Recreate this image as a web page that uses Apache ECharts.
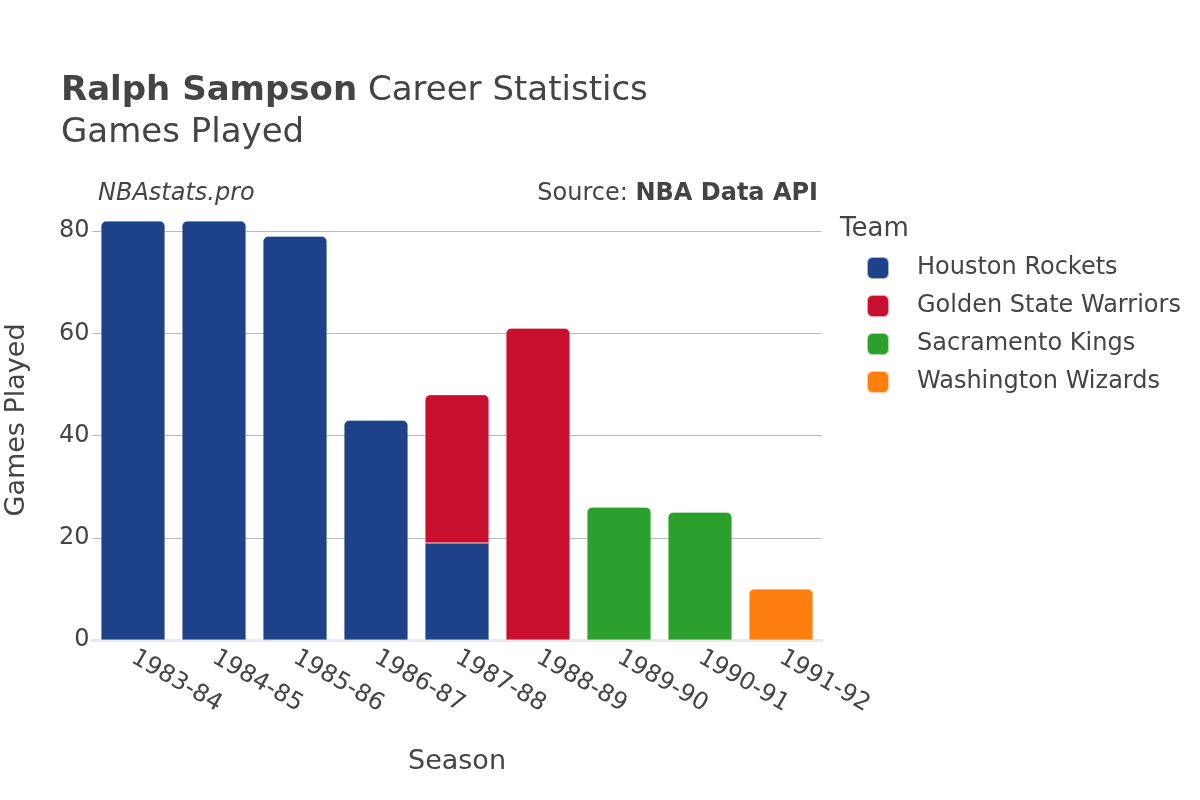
<!DOCTYPE html>
<html>
<head>
<meta charset="utf-8">
<script src="https://cdn.jsdelivr.net/npm/echarts@6/dist/echarts.min.js"></script>
<style>html,body{margin:0;padding:0;background:#fff}#c{width:1200px;height:800px}</style>
</head>
<body>
<div id="c"></div>
<script>
const seasons = ['1983-84','1984-85','1985-86','1986-87','1987-88','1988-89','1989-90','1990-91','1991-92'];
const teams = ['Houston Rockets','Golden State Warriors','Sacramento Kings','Washington Wizards'];
const teamColors = ['#1d4289','#c8102e','#2ca02c','#ff7f0e'];
const houston = [82, 82, 79, 43, 19, null, null, null, null];
const goldenState = [null, null, null, null, 29, 61, null, null, null];
const sacramento = [null, null, null, null, null, null, 26, 25, null];
const washington = [null, null, null, null, null, null, null, null, 10];
const yTicks = [0, 20, 40, 60, 80];

const seriesValues = [houston, goldenState, sacramento, washington];
const FONT = 'DejaVu Sans';
const TXT = '#444';

const topIdx = seasons.map((_, i) => {
  let t = -1;
  seriesValues.forEach((arr, s) => { if (arr[i] != null) t = s; });
  return t;
});

const series = teams.map((name, s) => ({
  name,
  type: 'bar',
  stack: 'total',
  barCategoryGap: '21%',
  itemStyle: { color: teamColors[s], borderColor: 'rgba(255,255,255,0.6)', borderWidth: 0.5 },
  data: seriesValues[s].map((v, i) => v == null ? null : {
    value: v,
    itemStyle: { borderRadius: topIdx[i] === s ? [5,5,0,0] : 0 }
  })
}));

const chart = echarts.init(document.getElementById('c'), null, { renderer: 'canvas' });
chart.setOption({
  backgroundColor: '#fff',
  animation: false,
  textStyle: { fontFamily: FONT },
  grid: { left: 92.5, width: 729, top: 200, height: 440, containLabel: false },
  xAxis: {
    type: 'category',
    data: seasons,
    axisLine: { show: true, lineStyle: { color: '#e8e8e8', width: 3 } },
    axisTick: { show: false },
    axisLabel: { rotate: -30, margin: 16, fontSize: 24, color: TXT, fontFamily: FONT, interval: 0 }
  },
  yAxis: {
    type: 'value',
    min: 0,
    max: 86.1,
    interval: 20,
    axisLine: { show: false },
    axisTick: { show: false },
    axisLabel: {
      fontSize: 24, color: TXT, fontFamily: FONT, margin: 3,
      showMaxLabel: false,
      formatter: v => yTicks.includes(v) ? String(v) : ''
    },
    splitLine: { show: true, showMinLine: false, showMaxLine: false, lineStyle: { color: '#b8b8b8', width: 1 } }
  },
  legend: {
    orient: 'vertical',
    left: 861,
    top: 251,
    itemWidth: 22,
    itemHeight: 22,
    itemGap: 14,
    icon: 'roundRect',
    data: teams,
    textStyle: { fontSize: 24, color: TXT, fontFamily: FONT, padding: [0, 0, 0, 23], lineHeight: 24 }
  },
  graphic: [
    { type: 'text', left: 61, top: 74, style: {
      text: '{b|Ralph Sampson} Career Statistics',
      font: '34px "DejaVu Sans"', fill: TXT,
      rich: { b: { fontWeight: 'bold', fontSize: 34, fontFamily: FONT, fill: TXT } }
    } },
    { type: 'text', left: 61, top: 116, style: { text: 'Games Played', font: '34px "DejaVu Sans"', fill: TXT } },
    { type: 'text', left: 98, top: 182, style: { text: 'NBAstats.pro', font: 'italic 24px "DejaVu Sans"', fill: TXT } },
    { type: 'text', right: 382, top: 182, style: {
      text: 'Source: {b|NBA Data API}', font: '24px "DejaVu Sans"', fill: TXT,
      rich: { b: { fontWeight: 'bold', fontSize: 24, fontFamily: FONT, fill: TXT } }
    } },
    { type: 'text', left: 840, top: 216, style: { text: 'Team', font: '26px "DejaVu Sans"', fill: TXT } },
    { type: 'text', x: 457, y: 762, style: { text: 'Season', font: '27px "DejaVu Sans"', fill: TXT, align: 'center', verticalAlign: 'middle' } },
    { type: 'text', x: 17, y: 420, rotation: Math.PI / 2, style: { text: 'Games Played', font: '27px "DejaVu Sans"', fill: TXT, align: 'center', verticalAlign: 'middle' } }
  ],
  series
});
</script>
</body>
</html>
